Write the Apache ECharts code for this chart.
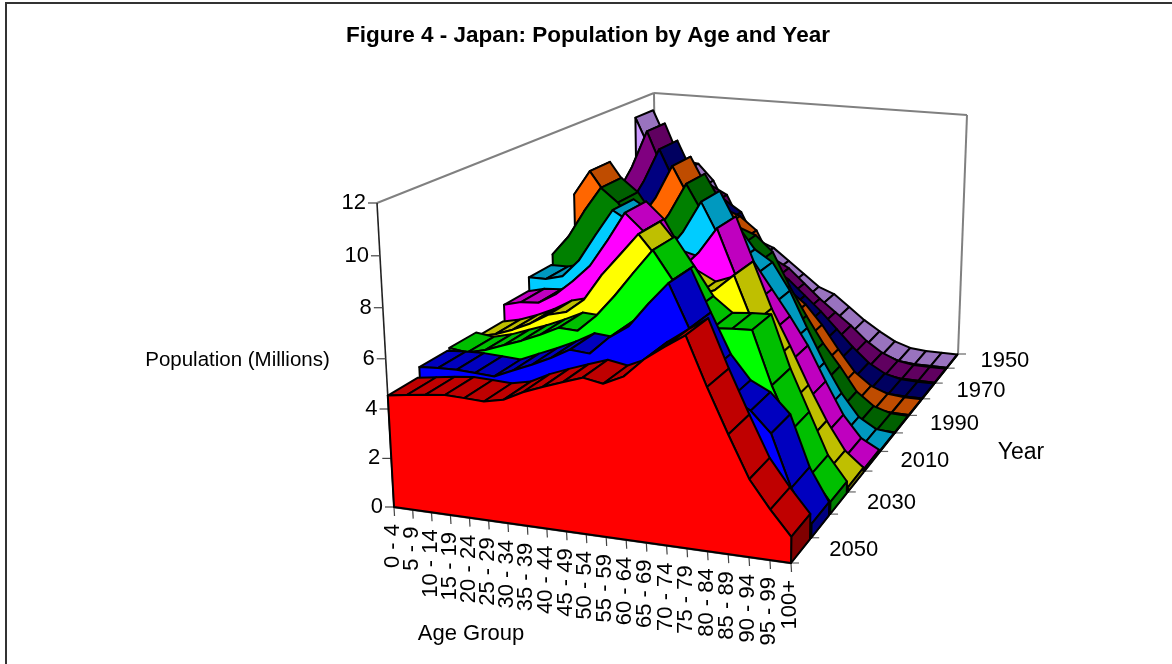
<!DOCTYPE html>
<html><head><meta charset="utf-8">
<style>html,body{margin:0;padding:0;background:#fff}#c{width:1172px;height:664px}</style>
<script src="https://cdn.jsdelivr.net/npm/echarts@6/dist/echarts.min.js"></script>
</head><body><div id="c"></div>
<script>
const ageGroups = ['0 - 4','5 - 9','10 - 14','15 - 19','20 - 24','25 - 29','30 - 34','35 - 39','40 - 44','45 - 49','50 - 54','55 - 59','60 - 64','65 - 69','70 - 74','75 - 79','80 - 84','85 - 89','90 - 94','95 - 99','100+'];
const years = [2050,2040,2030,2020,2010,2000,1990,1980,1970,1960,1950];
const yearLabels = ['2050','2030','2010','1990','1970','1950'];
const zTicks = [0,2,4,6,8,10,12];
const pop2050 = [4.54,4.65,4.76,4.84,4.81,4.77,4.93,5.32,5.62,5.89,6.16,6.02,6.38,7.12,7.68,8.2,6.35,4.65,3.04,1.97,1.02];
const pop2040 = [4.93,4.98,5.0,4.96,4.91,5.24,5.56,5.92,6.34,6.27,6.99,7.51,8.47,9.34,7.68,6.1,5.14,4.75,3.95,1.89,0.55];
const pop2030 = [5.0,4.9,5.09,5.37,5.65,5.98,6.35,6.31,7.0,7.9,8.9,9.87,8.76,7.6,7.0,7.07,7.1,4.97,3.24,1.52,0.5];
const pop2020 = [4.8,4.97,5.25,5.6,6.05,6.25,6.86,7.97,8.88,9.8,8.9,7.9,7.5,7.8,8.5,6.6,5.1,3.5,2.05,0.85,0.2];
const pop2010 = [5.5,5.7,5.75,6.2,6.85,7.6,8.75,10.0,9.3,8.0,7.8,8.6,9.7,7.8,6.7,5.6,4.4,2.9,1.5,0.55,0.12];
const pop2000 = [6.1,6.1,6.3,7.1,8.3,9.45,9.0,8.0,7.8,8.8,10.15,8.7,7.7,7.2,6.0,4.4,2.9,1.6,0.6,0.13,0.04];
const pop1990 = [6.55,7.45,8.7,9.8,9.2,8.1,7.8,8.9,10.3,9.0,8.0,7.7,7.0,5.5,4.2,3.0,2.0,0.9,0.3,0.05,0.02];
const pop1980 = [8.8,9.95,8.9,8.2,7.9,9.0,10.5,9.1,8.2,7.9,7.3,5.8,4.6,4.0,3.1,2.0,1.0,0.4,0.1,0.03,0.02];
const pop1970 = [8.8,8.0,7.8,9.1,10.7,9.1,8.2,8.0,7.5,6.0,4.9,4.4,3.7,3.0,2.2,1.4,0.7,0.25,0.05,0.02,0.02];
const pop1960 = [7.8,9.2,11.0,9.2,8.3,8.1,7.7,6.2,5.0,4.7,4.3,3.6,2.9,2.3,1.7,1.0,0.48,0.15,0.03,0.02,0.02];
const pop1950 = [11.15,9.5,8.7,8.6,7.8,6.3,5.1,4.9,4.6,4.0,3.4,2.8,2.5,1.9,1.3,0.8,0.36,0.1,0.02,0.02,0.02];
const seriesValues = [pop2050,pop2040,pop2030,pop2020,pop2010,pop2000,pop1990,pop1980,pop1970,pop1960,pop1950];
const frontColors = ['#FF0000','#0000FF','#00FF00','#FFFF00','#FF00FF','#00CCFF','#008000','#FF6600','#000080','#800080','#CC99FF'];
const topColors   = ['#BF0000','#0000BF','#00BF00','#BFBF00','#BF00BF','#0099BF','#006000','#BF4C00','#000060','#600060','#9973BF'];
const sideColors  = ['#800000','#000080','#008000','#808000','#800080','#006680','#004000','#803300','#000040','#400040','#664D80'];

/* Perspective calibration of the 3-D box: unit cube corners to page pixels. */
const boxAnchors = [
  [0,0,0, 394,507],[1,0,0, 791,563],[1,1,0, 958,354],
  [0,0,1, 377,203],[0,1,1, 654,93],[1,1,1, 967,111]
];
function solveProjection(){
  const A=[],B=[];
  boxAnchors.forEach(([a,b,c,x,y],k)=>{
    A.push([1,a,b,c,0,0,0,0,-x*a,-x*b,-x*c]);B.push(x);
    if(k!==5){A.push([0,0,0,0,1,a,b,c,-y*a,-y*b,-y*c]);B.push(y);}
  });
  const n=11;
  for(let i=0;i<n;i++){
    let p=i;for(let r=i+1;r<n;r++)if(Math.abs(A[r][i])>Math.abs(A[p][i]))p=r;
    [A[i],A[p]]=[A[p],A[i]];[B[i],B[p]]=[B[p],B[i]];
    for(let r=0;r<n;r++){ if(r===i)continue;
      const f=A[r][i]/A[i][i];
      for(let c=i;c<n;c++)A[r][c]-=f*A[i][c];
      B[r]-=f*B[i];
    }
  }
  return B.map((v,i)=>v/A[i][i]);
}
const M=solveProjection();
function proj(a,b,c){
  const w=1+M[8]*a+M[9]*b+M[10]*c;
  return [(M[0]+M[1]*a+M[2]*b+M[3]*c)/w,(M[4]+M[5]*a+M[6]*b+M[7]*c)/w];
}
const ageScale=i=>echarts.number.linearMap(i,[0,ageGroups.length-1],[0,1]);
const yearScale=t=>echarts.number.linearMap(t,[0,years.length],[0,1]);
const zScale=v=>echarts.number.linearMap(v,[0,12],[0,1]);
const DEPTH=0.94;
const LINE={stroke:'#000',lineWidth:2,lineJoin:'round'};

function surfaceSeries(si){
  const vals=seriesValues[si];
  const b0=yearScale(si), b1=yearScale(si+DEPTH);
  return {
    type:'custom',coordinateSystem:'none',silent:true,animation:false,
    data:vals.map((v,i)=>[i,v]),
    renderItem(params,api){
      const i=api.value(0);
      const children=[];
      if(i<vals.length-1){
        const a=ageScale(i),a2=ageScale(i+1),z=zScale(vals[i]),z2=zScale(vals[i+1]);
        children.push({type:'polygon',shape:{points:[proj(a,b0,z),proj(a2,b0,z2),proj(a2,b1,z2),proj(a,b1,z)]},
          style:Object.assign({fill:topColors[si]},LINE)});
      } else {
        const z=zScale(vals[i]);
        children.push({type:'polygon',shape:{points:[proj(1,b0,0),proj(1,b1,0),proj(1,b1,z),proj(1,b0,z)]},
          style:Object.assign({fill:sideColors[si]},LINE)});
        const pts=[proj(0,b0,0)];
        vals.forEach((v,k)=>pts.push(proj(ageScale(k),b0,zScale(v))));
        pts.push(proj(1,b0,0));
        children.push({type:'polygon',shape:{points:pts},style:Object.assign({fill:frontColors[si]},LINE)});
      }
      return {type:'group',children};
    }
  };
}
const GREY='#808080';
const F='"Liberation Sans"';
function line(p,q,stroke,w){return {type:'line',shape:{x1:p[0],y1:p[1],x2:q[0],y2:q[1]},style:{stroke,lineWidth:w}};}
function txt(x,y,t,opt){return {type:'text',x,y,rotation:opt&&opt.rot||0,style:Object.assign({text:t,fill:'#000',font:'22px '+F,align:'center',verticalAlign:'middle'},opt&&opt.style)};}

const frameSeries={
  type:'custom',coordinateSystem:'none',silent:true,animation:false,z:1,data:[0],
  renderItem(){
    const c=[];
    c.push(line(proj(0,0,1),proj(0,1,1),GREY,2));
    c.push(line(proj(0,1,1),proj(1,1,1),GREY,2));
    c.push(line(proj(1,1,1),proj(1,1,0),GREY,2));
    c.push(line(proj(0,1,1),proj(0,1,0),GREY,2));
    c.push(line(proj(0,0,1),proj(0,0,0),'#222',1.6));
    c.push(line(proj(0,0,0),proj(1,0,0),'#555',2.4));
    c.push(line(proj(1,0,0),proj(1,1,0),'#222',1.6));
    zTicks.forEach(v=>{
      const p=proj(0,0,zScale(v));
      c.push(line([p[0]-9,p[1]],p,'#444',1.2));
      c.push(txt(p[0]-11,p[1],String(v),{style:{align:'right'}}));
    });
    ageGroups.forEach((g,i)=>{
      const p=proj(ageScale(i),0,0);
      c.push(line(p,[p[0]+0.5,p[1]+9],'#444',1.2));
      c.push(txt(p[0]-1,p[1]+17,g,{rot:Math.PI/2,style:{align:'right'}}));
    });
    for(let t=0;t<=years.length;t++){
      const p=proj(1,yearScale(t),0);
      c.push(line(p,[p[0]+8,p[1]],'#666',1.2));
    }
    yearLabels.forEach(l=>{
      const t=years.indexOf(+l)+0.5;
      const p=proj(1,yearScale(t),0);
      c.push(txt(p[0]+28,p[1],l,{style:{align:'left'}}));
    });
    c.push(txt(237.5,360,'Population (Millions)',{style:{font:'20.5px '+F}}));
    c.push(txt(471,634,'Age Group',{style:{font:'22px '+F}}));
    c.push(txt(1021,453,'Year',{style:{font:'23px '+F}}));
    c.push(txt(588,36,'Figure 4 - Japan: Population by Age and Year',{style:{font:'bold 22.5px '+F}}));
    c.push({type:'polyline',shape:{points:[[6,664],[6,3],[1172,3]]},style:{stroke:'#333',lineWidth:2,fill:null}});
    return {type:'group',children:c};
  }
};
const chart=echarts.init(document.getElementById('c'),null,{renderer:'canvas'});
chart.setOption({backgroundColor:'#fff',animation:false,
  series:[frameSeries].concat(seriesValues.map((_,i)=>i).reverse().map(surfaceSeries))});
</script></body></html>
